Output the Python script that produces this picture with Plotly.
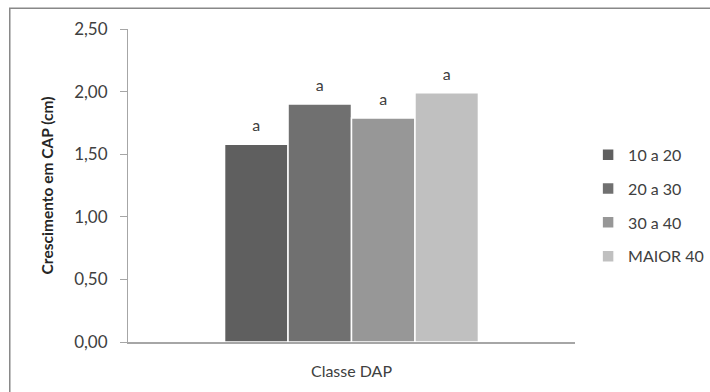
import plotly.graph_objects as go

# Growth in CAP by DAP class
classes = ["10 a 20", "20 a 30", "30 a 40", "MAIOR 40"]
growth = [1.58, 1.90, 1.79, 1.99]
letters = ["a", "a", "a", "a"]
colors = ["#5f5f5f", "#707070", "#979797", "#c0c0c0"]
category = ["Classe DAP"]

FONT = "Lato"
TXT = "#404040"

fig = go.Figure()
for name, val, let, col in zip(classes, growth, letters, colors):
    fig.add_trace(go.Bar(
        x=category, y=[val], name=name, legendgroup=name,
        marker=dict(color=col, line=dict(color="white", width=1.5)),
        text=["<span style='font-size:16px'>" + let + "</span><br> "],
        textposition="outside",
        textfont=dict(family=FONT, size=7, color=TXT),
        cliponaxis=False,
    ))

fig.update_layout(
    width=710, height=392,
    margin=dict(l=128, r=135, t=29, b=50, autoexpand=False),
    paper_bgcolor="white", plot_bgcolor="white",
    separators=",.",
    barmode="group", bargap=0.432, bargroupgap=0,
    font=dict(family=FONT, size=16, color=TXT),
    showlegend=True,
    legend=dict(
        x=1.3, xanchor="right", y=0.435, yanchor="middle",
        traceorder="grouped", tracegroupgap=10,
        font=dict(family=FONT, size=16, color=TXT),
        itemwidth=30, borderwidth=0,
    ),
    xaxis=dict(
        showticklabels=False, ticks="", showgrid=False,
        showline=True, linecolor="#a6a6a6", linewidth=1.5,
        title=dict(text="Classe DAP", standoff=23,
                   font=dict(family=FONT, size=16, color=TXT)),
    ),
    yaxis=dict(
        range=[0, 2.5], dtick=0.5, tickformat=".2f",
        showgrid=False, zeroline=False,
        showline=True, linecolor="#a6a6a6", linewidth=1,
        ticks="outside", ticklen=7, tickcolor="#a6a6a6",
        ticklabelstandoff=9,
        tickfont=dict(family=FONT, size=17, color=TXT),
        title=dict(text="<b>Crescimento em CAP (cm)</b>", standoff=16,
                   font=dict(family=FONT, size=15.5, color="#262626")),
    ),
    shapes=[dict(type="rect", xref="paper", yref="paper",
                 x0=-0.2645, x1=1.35, y0=-0.2, y1=1.0665,
                 line=dict(color="#888888", width=1.5))],
)

fig.write_html("out.html")
